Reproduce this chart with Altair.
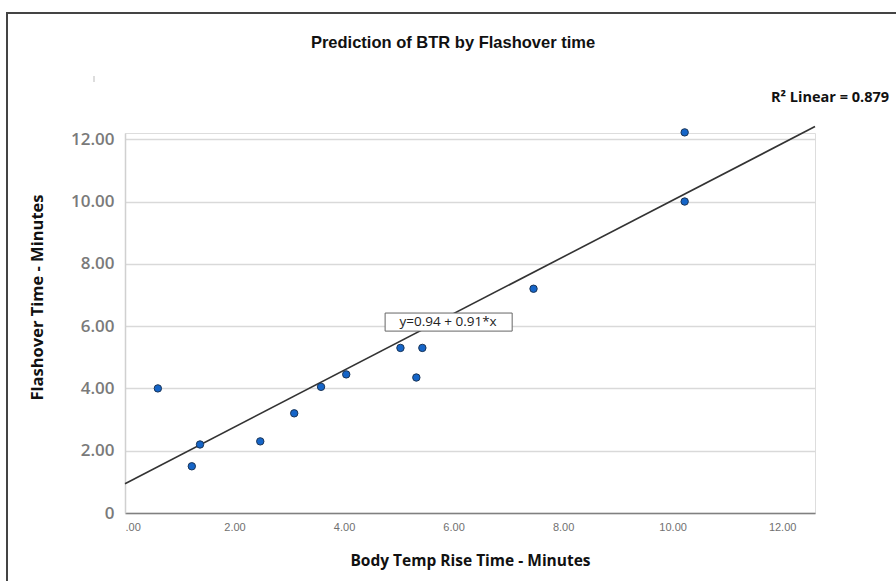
import altair as alt
import pandas as pd

# Scatter data
btr_minutes = [0.6, 1.22, 1.37, 2.47, 3.09, 3.58, 4.04, 5.03, 5.32, 5.43, 7.46, 10.22, 10.22]
flashover_minutes = [4.0, 1.5, 2.2, 2.3, 3.2, 4.05, 4.45, 5.3, 4.35, 5.3, 7.2, 12.22, 10.0]

# Fit line coefficients (from the chart's annotation)
intercept = 0.94
slope = 0.91
line_x = [0.0, 12.6]

x_ticks = [0, 2, 4, 6, 8, 10, 12]
y_ticks = [0, 2, 4, 6, 8, 10, 12]

eq_label = ["y=0.94 + 0.91*x"]
eq_pos_x = [5.9]
eq_pos_y = [6.13]
eq_box_x = [4.75]
eq_box_x2 = [7.07]
eq_box_y = [5.84]
eq_box_y2 = [6.42]

title_text = ["Prediction of BTR by Flashover time"]
r2_label = ["R\u00b2 Linear = 0.879"]

pts = pd.DataFrame({"x": btr_minutes, "y": flashover_minutes})
fit = pd.DataFrame({"x": line_x})
eq = pd.DataFrame({"label": eq_label, "x": eq_pos_x, "y": eq_pos_y,
                   "bx": eq_box_x, "bx2": eq_box_x2, "by": eq_box_y, "by2": eq_box_y2})
r2 = pd.DataFrame({"label": r2_label})
ttl = pd.DataFrame({"label": title_text})

xscale = alt.Scale(domain=[0, 12.6], nice=False, zero=False)
yscale = alt.Scale(domain=[0, 12.2], nice=False, zero=False)

xaxis = alt.Axis(
    values=x_ticks,
    labelExpr="datum.value == 0 ? '.00' : format(datum.value, '.2f')",
    grid=False, ticks=False, domainColor="#808080", domainWidth=1.5,
    labelFont="Liberation Sans Narrow, Liberation Sans", labelFontSize=11, labelColor="#707070",
    labelPadding=8,
    title="Body Temp Rise Time - Minutes", titleFont="Open Sans", titleFontSize=15.5,
    titleFontWeight="bold", titleColor="#111", titleY=47, titleBaseline="middle",
)
yaxis = alt.Axis(
    values=y_ticks,
    labelExpr="datum.value == 0 ? '0' : format(datum.value, '.2f')",
    grid=True, gridColor="#d9d9d9", gridWidth=1.5, ticks=False,
    domainColor="#d0d0d0", domainWidth=1.5,
    labelFont="Open Sans", labelFontSize=17, labelFontWeight=600, labelColor="#7a7a7a",
    labelPadding=11,
    title="Flashover Time - Minutes", titleFont="Open Sans", titleFontSize=16.5,
    titleFontWeight="bold", titleColor="#111", titleX=-88, titleY=164,
    titleAngle=270, titleAlign="center", titleBaseline="middle",
)

frame = alt.Chart(r2).mark_rect(fill=None, stroke="#444", strokeWidth=2, clip=False).encode(
    x=alt.value(-118), x2=alt.value(800), y=alt.value(-120), y2=alt.value(500)
)

tick_mark = alt.Chart(r2).mark_rule(color="#bbbbbb", strokeWidth=1).encode(
    x=alt.value(-31), y=alt.value(-57), y2=alt.value(-51)
)

line = alt.Chart(fit).transform_calculate(
    y=f"{intercept} + {slope} * datum.x"
).mark_line(color="#333", strokeWidth=1.6, clip=False).encode(
    x=alt.X("x:Q", scale=xscale, axis=xaxis),
    y=alt.Y("y:Q", scale=yscale, axis=yaxis),
)

points = alt.Chart(pts).mark_point(
    filled=True, size=55, fill="#1565c8", stroke="#1b3557", strokeWidth=1, opacity=1
).encode(
    x=alt.X("x:Q", scale=xscale),
    y=alt.Y("y:Q", scale=yscale),
)

box = alt.Chart(eq).mark_rect(fill="white", stroke="#666", strokeWidth=1).encode(
    x=alt.X("bx:Q", scale=xscale), x2="bx2:Q",
    y=alt.Y("by:Q", scale=yscale), y2="by2:Q",
)
box_text = alt.Chart(eq).mark_text(font="Open Sans", fontSize=13.5, color="#222").encode(
    x=alt.X("x:Q", scale=xscale), y=alt.Y("y:Q", scale=yscale), text="label:N"
)

r2_text = alt.Chart(r2).mark_text(
    font="Open Sans", fontSize=14.5, fontWeight="bold", color="#111", clip=False
).encode(x=alt.value(705), y=alt.value(-35), text="label:N")

title_mark = alt.Chart(ttl).mark_text(
    font="Liberation Sans", fontSize=16.5, fontWeight="bold", color="#111", clip=False
).encode(x=alt.value(328), y=alt.value(-90), text="label:N")

chart = alt.layer(frame, tick_mark, line, points, box, box_text, r2_text, title_mark).properties(
    width=690, height=380,
    autosize=alt.AutoSizeParams(type="none"),
    padding={"left": 125, "top": 133, "right": 81, "bottom": 68},
).configure_view(stroke=None).configure(background="white")

chart.save("out.html", embed_options={"renderer": "svg", "actions": False})
